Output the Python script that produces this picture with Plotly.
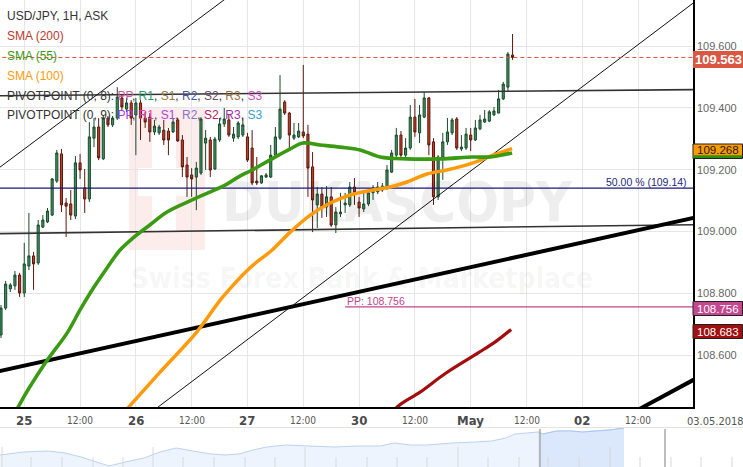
import plotly.graph_objects as go

W, H = 743, 467
FONT = "Arial, 'Liberation Sans', sans-serif"
NARROW = "'Liberation Sans Narrow', 'Arial Narrow', 'DejaVu Sans Condensed', Arial, sans-serif"

# ---------------- hourly candles (index 0 = 24 Apr 19:00, weekend skipped) -------------
bar_index = list(range(111))
opens = [108.665, 108.752, 108.814, 108.824, 108.859, 108.801, 108.888, 108.921, 108.898, 109.014,
         109.031, 109.053, 109.163, 109.251, 109.092, 109.089, 109.050, 109.222, 109.141, 109.105,
         109.302, 109.338, 109.235, 109.367, 109.345, 109.367, 109.432, 109.396, 109.416, 109.377,
         109.416, 109.367, 109.370, 109.322, 109.319, 109.328, 109.325, 109.322, 109.361, 109.296,
         109.215, 109.183, 109.176, 109.189, 109.286, 109.296, 109.202, 109.296, 109.348, 109.361,
         109.302, 109.306, 109.312, 109.306, 109.270, 109.163, 109.157, 109.176, 109.176, 109.247,
         109.302, 109.419, 109.383, 109.302, 109.306, 109.322, 109.315, 109.209, 109.086, 109.121,
         109.079, 109.112, 109.021, 109.057, 109.086, 109.086, 109.144, 109.095, 109.073, 109.089,
         109.125, 109.128, 109.134, 109.141, 109.192, 109.247, 109.312, 109.247, 109.270, 109.370,
         109.319, 109.370, 109.432, 109.290, 109.112, 109.241, 109.290, 109.319, 109.364, 109.267,
         109.270, 109.312, 109.296, 109.332, 109.354, 109.357, 109.377, 109.383, 109.429, 109.467,
         109.571]
highs = [108.762, 108.840, 108.833, 108.872, 108.866, 108.963, 109.060, 108.934, 109.037, 109.053,
         109.076, 109.173, 109.264, 109.267, 109.108, 109.134, 109.244, 109.251, 109.202, 109.354,
         109.367, 109.367, 109.374, 109.374, 109.374, 109.467, 109.442, 109.432, 109.425, 109.432,
         109.425, 109.387, 109.383, 109.361, 109.345, 109.361, 109.335, 109.367, 109.367, 109.312,
         109.241, 109.205, 109.225, 109.370, 109.328, 109.306, 109.306, 109.367, 109.400, 109.377,
         109.338, 109.357, 109.367, 109.319, 109.328, 109.241, 109.183, 109.189, 109.280, 109.338,
         109.506, 109.425, 109.387, 109.351, 109.351, 109.539, 109.345, 109.257, 109.144, 109.144,
         109.147, 109.144, 109.079, 109.125, 109.125, 109.160, 109.173, 109.112, 109.125, 109.134,
         109.150, 109.160, 109.157, 109.215, 109.264, 109.335, 109.325, 109.302, 109.409, 109.429,
         109.409, 109.451, 109.435, 109.302, 109.247, 109.319, 109.367, 109.367, 109.370, 109.312,
         109.335, 109.335, 109.361, 109.377, 109.393, 109.393, 109.403, 109.458, 109.484, 109.581,
         109.639]
lows = [108.655, 108.746, 108.804, 108.811, 108.788, 108.788, 108.875, 108.811, 108.892, 109.011,
        109.027, 109.050, 109.157, 109.063, 108.982, 109.037, 109.040, 109.170, 109.060, 109.095,
        109.273, 109.231, 109.231, 109.338, 109.338, 109.361, 109.393, 109.387, 109.345, 109.247,
        109.296, 109.335, 109.290, 109.312, 109.312, 109.280, 109.247, 109.319, 109.290, 109.176,
        109.112, 109.112, 109.069, 109.183, 109.199, 109.176, 109.199, 109.290, 109.338, 109.306,
        109.290, 109.299, 109.306, 109.225, 109.150, 109.150, 109.154, 109.173, 109.173, 109.241,
        109.296, 109.377, 109.270, 109.296, 109.302, 109.302, 109.112, 108.998, 109.011, 109.044,
        109.047, 109.014, 108.995, 109.047, 109.060, 109.079, 109.086, 109.047, 109.063, 109.082,
        109.102, 109.121, 109.128, 109.134, 109.189, 109.241, 109.241, 109.241, 109.264, 109.306,
        109.286, 109.367, 109.247, 109.086, 109.102, 109.167, 109.280, 109.312, 109.264, 109.260,
        109.264, 109.260, 109.293, 109.328, 109.351, 109.354, 109.374, 109.383, 109.425, 109.451,
        109.555]
closes = [108.752, 108.830, 108.827, 108.859, 108.801, 108.895, 108.921, 108.895, 109.021, 109.037,
          109.066, 109.170, 109.254, 109.086, 109.082, 109.053, 109.222, 109.199, 109.105, 109.306,
          109.338, 109.238, 109.367, 109.345, 109.367, 109.435, 109.403, 109.416, 109.367, 109.416,
          109.367, 109.354, 109.322, 109.341, 109.338, 109.296, 109.296, 109.354, 109.293, 109.209,
          109.176, 109.170, 109.205, 109.364, 109.302, 109.199, 109.299, 109.348, 109.364, 109.312,
          109.315, 109.351, 109.345, 109.231, 109.157, 109.157, 109.180, 109.183, 109.247, 109.306,
          109.396, 109.383, 109.312, 109.312, 109.325, 109.309, 109.205, 109.102, 109.121, 109.079,
          109.112, 109.021, 109.063, 109.063, 109.092, 109.144, 109.125, 109.076, 109.089, 109.125,
          109.141, 109.144, 109.147, 109.199, 109.254, 109.312, 109.247, 109.270, 109.370, 109.322,
          109.377, 109.432, 109.280, 109.112, 109.241, 109.290, 109.322, 109.361, 109.270, 109.273,
          109.315, 109.296, 109.335, 109.361, 109.364, 109.387, 109.390, 109.429, 109.477, 109.574,
          109.563]

# ---------------- moving averages ----------------
sma55_x = [1.9, 3.7, 9.5, 14.2, 17.0, 20.0, 22.8, 25.6, 28.4, 32.0, 35.7, 41.1, 44.5, 48.2, 51.0,
           54.0, 57.8, 62.2, 64.9, 68.6, 72.9, 77.2, 81.5, 87.3, 94.4, 101.5, 105.2, 109.9]
sma55_y = [108.374, 108.432, 108.574, 108.671, 108.746, 108.820, 108.882, 108.940, 108.979, 109.021,
           109.063, 109.102, 109.125, 109.150, 109.176, 109.199, 109.231, 109.267, 109.286, 109.280,
           109.273, 109.264, 109.241, 109.235, 109.235, 109.241, 109.241, 109.254]
sma100_x = [25.6, 27.5, 34.2, 41.9, 47.7, 53.5, 58.3, 62.2, 66.5, 70.8, 75.1, 80.0, 83.7, 87.3,
            91.6, 95.9, 101.5, 105.8, 109.9]
sma100_y = [108.400, 108.432, 108.545, 108.671, 108.788, 108.882, 108.940, 108.998, 109.053, 109.092,
            109.118, 109.134, 109.144, 109.160, 109.186, 109.199, 109.222, 109.247, 109.268]
sma200_x = [83.7, 85.2, 90.1, 95.7, 102.6, 106.2, 109.7]
sma200_y = [108.400, 108.432, 108.480, 108.542, 108.607, 108.642, 108.683]

# ---------------- drawn objects (anchor bar index, price) ----------------
trend_thin_upper_x = [-4.5, 52.3]
trend_thin_upper_y = [109.160, 109.798]
trend_thin_lower_x = [30.0, 152.0]
trend_thin_lower_y = [108.389, 109.775]
level_upper_x = [-0.3, 149.0]
level_upper_y = [109.439, 109.459]
level_lower_x = [-0.3, 149.0]
level_lower_y = [108.993, 109.022]
trend_thick_x = [-0.3, 149.0]
trend_thick_y = [108.548, 109.044]
trend_thick2_x = [136.0, 152.0]
trend_thick2_y = [108.415, 108.545]
fib50_price = 109.14
pp_price = 108.756
pp_start = 74
last_price = 109.563

y_ticks = [108.6, 108.8, 109.0, 109.2, 109.4, 109.6]
x_tick_pos = [5, 17, 29, 41, 53, 65, 77, 89, 101, 113, 125, 137]
x_tick_text = ["25", "12:00", "26", "12:00", "27", "12:00", "30", "12:00", "May", "12:00", "02", "12:00"]

# navigator (overview) series
nav_day = [0, 1.0, 2.1, 2.8, 3.5, 4.2, 4.7, 5.4, 6.2, 6.9, 7.6, 8.3, 9.1, 9.7, 10.3, 10.9, 11.5,
           12.3, 13.3, 14.4, 15.4, 16.4, 17.0, 17.7, 18.4, 19.5, 20.5, 21.2, 21.8, 22.2, 22.7,
           23.2, 23.4, 24.0, 24.6, 25.1, 25.6, 26.3, 26.9]
nav_val = [107.0, 107.3, 107.4, 107.2, 106.8, 106.3, 105.9, 106.3, 106.7, 107.3, 107.7, 107.4,
           107.1, 107.0, 107.1, 107.5, 107.8, 108.0, 107.9, 107.8, 107.9, 107.9, 108.2, 108.0,
           108.0, 108.2, 108.3, 108.4, 108.7, 109.1, 109.2, 109.3, 109.1, 109.4, 109.4, 109.3,
           109.4, 109.5, 109.7]
nav_sel_start = 23.2

# ---------------- geometry ----------------
X0, X1 = -0.215, 148.8
Y0, Y1 = 108.432, 109.749
plot_right = 693 / W
ydom_bottom = (H - 407) / H


def py(px):  # pixel row -> paper y
    return 1 - px / H


def pxx(px):  # pixel column -> paper x
    return px / W


fig = go.Figure()

# watermark (drawn first -> behind everything)
fig.add_trace(go.Scatter(x=[85.2], y=[109.078], mode="text", text=["DUKASCOPY"],
                         textfont=dict(family=NARROW, size=56, weight="bold", color="rgba(0,0,0,0.065)"),
                         hoverinfo="skip", showlegend=False))
fig.add_trace(go.Scatter(x=[77.6], y=[108.84], mode="text",
                         text=["Swiss Forex Bank & Marketplace"],
                         textfont=dict(family=NARROW, size=28, weight="bold", color="rgba(0,0,0,0.05)"),
                         hoverinfo="skip", showlegend=False))


def line(xs, ys, color, width, dash=None, shape="linear"):
    fig.add_trace(go.Scatter(x=xs, y=ys, mode="lines", hoverinfo="skip", showlegend=False,
                             line=dict(color=color, width=width, dash=dash, shape=shape)))

# horizontal levels and trend lines
line(level_lower_x, level_lower_y, "#333333", 1.6)
line(level_upper_x, level_upper_y, "#333333", 1.6)
line([X0 - 1, X1 + 1], [fib50_price, fib50_price], "#1a1a7a", 1.2)
line([pp_start, X1 + 1], [pp_price, pp_price], "#c2458c", 1.2)
line(trend_thick_x, trend_thick_y, "#000000", 4)
line(trend_thick2_x, trend_thick2_y, "#000000", 4)
line(trend_thin_upper_x, trend_thin_upper_y, "#111111", 1)
line(trend_thin_lower_x, trend_thin_lower_y, "#111111", 1)

# moving averages
line(sma200_x, sma200_y, "#a30d0d", 3.2, shape="spline")
line(sma100_x, sma100_y, "#ff9a0a", 3.5, shape="spline")
line(sma55_x, sma55_y, "#3a9a12", 3.6, shape="spline")

# candles
fig.add_trace(go.Candlestick(
    x=bar_index, open=opens, high=highs, low=lows, close=closes,
    increasing=dict(line=dict(color="#1c4a2c", width=1), fillcolor="#3f9060"),
    decreasing=dict(line=dict(color="#5a180e", width=1), fillcolor="#c43c28"),
    whiskerwidth=0, hoverinfo="skip", showlegend=False))

# current price dashed line
line([X0 - 1, X1 + 1], [last_price, last_price], "#e0523c", 1, dash="4px,3px")

# navigator
fig.add_trace(go.Scatter(x=nav_day, y=nav_val, mode="lines", xaxis="x2", yaxis="y2",
                         fill="tozeroy", fillcolor="#eef4fd",
                         line=dict(color="#bcd2f3", width=1), hoverinfo="skip", showlegend=False))
sel = [i for i, d in enumerate(nav_day) if d >= nav_sel_start]
fig.add_trace(go.Scatter(x=[nav_day[i] for i in sel], y=[nav_val[i] for i in sel], mode="lines",
                         xaxis="x2", yaxis="y2", fill="tozeroy", fillcolor="#dbe7fb",
                         line=dict(color="#a9c6f2", width=1), hoverinfo="skip", showlegend=False))

shapes = []
# pale logo square with white cross (behind data)
shapes.append(dict(type="rect", xref="paper", yref="paper", x0=pxx(129), x1=pxx(205),
                   y0=py(250), y1=py(108), fillcolor="#fcecec", line=dict(width=0), layer="between"))
shapes.append(dict(type="rect", xref="paper", yref="paper", x0=pxx(152), x1=pxx(176),
                   y0=py(232), y1=py(128), fillcolor="#ffffff", line=dict(width=0), layer="between"))
shapes.append(dict(type="rect", xref="paper", yref="paper", x0=pxx(138), x1=pxx(194),
                   y0=py(196), y1=py(168), fillcolor="#ffffff", line=dict(width=0), layer="between"))

# navigator decorations
shapes.append(dict(type="line", xref="paper", yref="paper", x0=0, x1=1, y0=py(427.5), y1=py(427.5),
                   line=dict(color="#e4e4e4", width=1)))
for px in [31, 62, 93, 123, 183, 214, 245, 275, 336, 367, 397, 427, 488, 519, 548, 579, 640, 671, 701, 732]:
    shapes.append(dict(type="line", xref="paper", yref="paper", x0=pxx(px), x1=pxx(px),
                       y0=py(467), y1=py(457), line=dict(color="#d8d8d8", width=1)))
for px in [2, 153, 305, 458, 610]:
    shapes.append(dict(type="line", xref="paper", yref="paper", x0=pxx(px), x1=pxx(px),
                       y0=py(467), y1=py(447), line=dict(color="#d8d8d8", width=1)))
for px in [540, 665]:
    shapes.append(dict(type="line", xref="paper", yref="paper", x0=pxx(px), x1=pxx(px),
                       y0=py(467), y1=py(429), line=dict(color="#a8a8a8", width=1.5)))


def tag(y0, y1, fill):
    shapes.append(dict(type="rect", xref="paper", yref="paper", x0=pxx(693), x1=pxx(742.5),
                       y0=py(y1), y1=py(y0), fillcolor=fill, line=dict(color="#222222", width=1)))

shapes.append(dict(type="rect", xref="paper", yref="paper", x0=pxx(693), x1=pxx(743),
                   y0=py(68), y1=py(51), fillcolor="#db5743", line=dict(width=0)))
tag(144, 158.5, "#ff9900")
shapes.append(dict(type="rect", xref="paper", yref="paper", x0=pxx(693.5), x1=pxx(742),
                   y0=py(158), y1=py(155.3), fillcolor="#2f8f10", line=dict(width=0)))
tag(301.5, 315.5, "#c4478f")
tag(324.5, 338.5, "#a30f0f")

annotations = []


def ann(text, x, y, size=12, color="#333", xanchor="left", xref="paper", yref="paper",
        family=FONT, yshift=0):
    annotations.append(dict(text=text, x=x, y=y, xref=xref, yref=yref, showarrow=False,
                            xanchor=xanchor, yanchor="middle", yshift=yshift,
                            font=dict(family=family, size=size, color=color)))

# tag texts
ann("<b>109.563</b>", pxx(718), py(59.5), size=13, color="#ffffff", xanchor="center")
ann("109.268", pxx(695), py(150), size=11.5, color="#1a1a1a")
ann("108.756", pxx(695), py(308.5), size=11.5, color="#ffffff")
ann("108.683", pxx(695), py(331.5), size=11.5, color="#ffffff")

# in-chart labels
ann("50.00 % (109.14)", X1 - 0.8, fib50_price, size=10.5, color="#262680", xanchor="right",
    xref="x", yref="y", yshift=6)
ann("PP: 108.756", pp_start, pp_price, size=10.5, color="#c2458c", xref="x", yref="y", yshift=6)

# x labels
for pos, t in zip(x_tick_pos, x_tick_text):
    if t == "12:00":
        ann(t, pos, py(420), size=10, color="#555555", xanchor="center", xref="x", family=NARROW)
    else:
        ann("<b>" + t + "</b>", pos, py(420), size=13, color="#4a4a4a", xanchor="center",
            xref="x", family=NARROW)
ann("03.05.2018", pxx(715), py(421), size=11, color="#555555", xanchor="center", family=NARROW)

# legend lines
ann("USD/JPY, 1H, ASK", pxx(5), py(15.5), color="#333333")
ann("SMA (200)", pxx(5), py(35.5), color="#c0392b")
ann("SMA (55)", pxx(5), py(55.5), color="#3a9a12")
ann("SMA (100)", pxx(5), py(75.5), color="#ff9a0a")


def piv(label, cols):
    names = ["PP", "R1", "S1", "R2", "S2", "R3", "S3"]
    parts = ['<span style="color:#333333">%s: </span>' % label]
    for i, (n, c) in enumerate(zip(names, cols)):
        parts.append('<span style="color:%s">%s</span>' % (c, n))
        if i < len(names) - 1:
            parts.append('<span style="color:#333333">, </span>')
    return "".join(parts)

ann(piv("PIVOTPOINT (0, 8)", ["#d6589a", "#2a9a6a", "#9a7a48", "#4a58a0", "#6a4a6a", "#9a7040", "#d050c0"]),
    pxx(5), py(95.5))
ann(piv("PIVOTPOINT (0, 9)", ["#a040e0", "#e040b0", "#b040e0", "#8a70d0", "#c02060", "#a030b0", "#3aa0c8"]),
    pxx(5), py(115.5))

fig.update_layout(
    width=W, height=H, margin=dict(l=0, r=0, t=0, b=0),
    paper_bgcolor="#ffffff", plot_bgcolor="#ffffff",
    showlegend=False, boxgap=0.35,
    shapes=shapes, annotations=annotations,
    xaxis=dict(domain=[0, plot_right], range=[X0, X1], tickvals=x_tick_pos + [149],
               showticklabels=False, showgrid=True, gridcolor="#e6e6e6", gridwidth=1,
               zeroline=False, showline=True, linecolor="#000000", linewidth=1.5,
               rangeslider=dict(visible=False), fixedrange=True, automargin=False),
    yaxis=dict(domain=[ydom_bottom, 1], range=[Y0, Y1], side="right", tickvals=y_ticks,
               tickformat=".3f", tickfont=dict(family=FONT, size=11, color="#666666"),
               showgrid=True, gridcolor="#e6e6e6", zeroline=False, showline=True,
               linecolor="#000000", linewidth=1.5, ticks="", automargin=False),
    xaxis2=dict(domain=[0, 1], range=[0, 32.03], anchor="y2", visible=False, fixedrange=True),
    yaxis2=dict(domain=[0, 40 / H], range=[105.8, 109.8], anchor="x2", visible=False),
)

fig.write_html("out.html", config={"displayModeBar": False},
               post_script="document.body.style.margin='0';document.body.style.overflow='hidden';")
